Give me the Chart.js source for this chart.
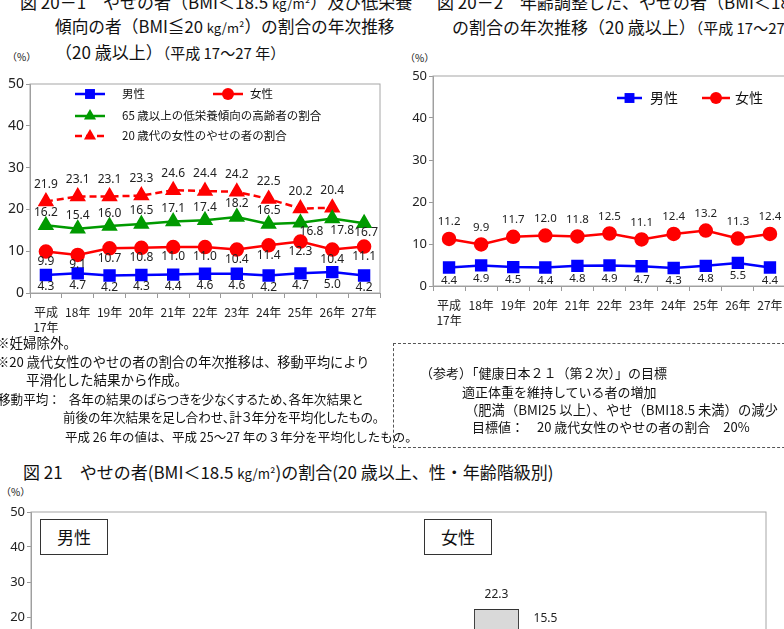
<!DOCTYPE html>
<html>
<head>
<meta charset="utf-8">
<script src="https://cdn.jsdelivr.net/npm/chart.js@4.4.0/dist/chart.umd.min.js"></script>
<style>
html, body { margin: 0; padding: 0; background: #fff; }
body { position: relative; width: 784px; height: 629px; overflow: hidden; font-family: "Noto Sans CJK JP", sans-serif; color: #111; }
.t { position: absolute; white-space: nowrap; line-height: 1; }
.s { font-size: 0.78em; }
.p { font-feature-settings: "palt"; }
.wrap { position: absolute; }
.dash { position: absolute; left: 393px; top: 343px; width: 420px; height: 103px; border: 1px dashed #555; }
.tag { position: absolute; border: 1.5px solid #333; background: #fff; font-size: 17px; text-align: center; line-height: 34px; }
</style>
</head>
<body>

<div class="t" style="left:20px;top:-7px;font-size:17px">図 20－1　やせの者（BMI＜18.5 <span class="s">kg/m²</span>）及び低栄養</div>
<div class="t" style="left:55px;top:18px;font-size:16.7px">傾向の者（BMI≦20 <span class="s">kg/m²</span>）の割合の年次推移</div>
<div class="t" style="left:55px;top:43px;font-size:17px">（20 歳以上）<span style="font-size:15px">（平成 17〜27 年）</span></div>
<div class="t" style="left:7px;top:52px;font-size:10px">（%）</div>

<div class="t" style="left:437px;top:-7px;font-size:17px">図 20－2　年齢調整した、やせの者（BMI＜18.5 <span class="s">kg/m²</span>）</div>
<div class="t" style="left:452px;top:18px;font-size:17px">の割合の年次推移（20 歳以上）<span style="font-size:15px">（平成 17〜27 年）</span></div>
<div class="t" style="left:405px;top:53px;font-size:10px">（%）</div>

<div class="wrap" style="left:0;top:70px;width:400px;height:270px"><canvas id="trend"></canvas></div>
<div class="wrap" style="left:400px;top:60px;width:400px;height:270px"><canvas id="adjusted"></canvas></div>

<div class="t" style="left:-4px;top:336px;font-size:13.5px">※妊婦除外。</div>
<div class="t" style="left:-4px;top:355px;font-size:13.2px">※20 歳代女性のやせの者の割合の年次推移は、移動平均により</div>
<div class="t" style="left:26px;top:373px;font-size:13.5px">平滑化した結果から作成。</div>
<div class="t p" style="left:-2px;top:393px;font-size:12.6px">移動平均 ：&nbsp;&nbsp;&nbsp; 各年の結果のばらつきを少なくするため、各年次結果と</div>
<div class="t p" style="left:63px;top:411px;font-size:12.6px">前後の年次結果を足し合わせ、計３年分を平均化したもの。</div>
<div class="t" style="left:65px;top:431px;font-size:12.5px">平成 26 年の値は、平成 25〜27 年の３年分を平均化したもの。</div>

<div class="dash"></div>
<div class="t" style="left:420px;top:366px;font-size:13px">（参考）「健康日本２１（第２次）」の目標</div>
<div class="t" style="left:462px;top:385px;font-size:13px">適正体重を維持している者の増加</div>
<div class="t" style="left:465px;top:403px;font-size:13.3px">（肥満（BMI25 以上）、やせ（BMI18.5 未満）の減少</div>
<div class="t" style="left:472px;top:420px;font-size:13px">目標値：　20 歳代女性のやせの者の割合　20%</div>

<div class="t" style="left:23px;top:463px;font-size:17px">図 21　やせの者(BMI＜18.5 <span class="s">kg/m²</span>)の割合(20 歳以上、性・年齢階級別)</div>
<div class="t" style="left:1px;top:487px;font-size:10px">（%）</div>

<div class="wrap" style="left:0;top:490px;width:784px;height:240px"><canvas id="byAge"></canvas></div>
<div class="tag" style="left:40px;top:519px;width:66px;height:34px">男性</div>
<div class="tag" style="left:424px;top:519px;width:66px;height:34px">女性</div>

<script>
// 年次推移 (平成17〜27年)
var years = [['平成', '17年'], '18年', '19年', '20年', '21年', '22年', '23年', '24年', '25年', '26年', '27年'];
var menThin = [4.3, 4.7, 4.2, 4.3, 4.4, 4.6, 4.6, 4.2, 4.7, 5.0, 4.2];
var womenThin = [9.9, 9.1, 10.7, 10.8, 11.0, 11.0, 10.4, 11.4, 12.3, 10.4, 11.1];
var elderlyLow = [16.2, 15.4, 16.0, 16.5, 17.1, 17.4, 18.2, 16.5, 16.8, 17.8, 16.7];
var women20s = [21.9, 23.1, 23.1, 23.3, 24.6, 24.4, 24.2, 22.5, 20.2, 20.4, null];

// 年齢調整
var menAdj = [4.4, 4.9, 4.5, 4.4, 4.8, 4.9, 4.7, 4.3, 4.8, 5.5, 4.4];
var womenAdj = [11.2, 9.9, 11.7, 12.0, 11.8, 12.5, 11.1, 12.4, 13.2, 11.3, 12.4];

// 性・年齢階級別
var ageGroups = ['総数', '20-29歳', '30-39歳', '40-49歳', '50-59歳', '60-69歳', '70歳以上'];
var menByAge = [4.2, 7.5, 4.1, 2.6, 2.7, 3.0, 6.6];
var womenByAge = [11.1, 22.3, 15.5, 10.4, 8.6, 7.5, 10.2];

var yTicks = [0, 10, 20, 30, 40, 50];

Chart.defaults.font.family = "'Noto Sans', 'Noto Sans CJK JP', sans-serif";
Chart.defaults.color = '#222';
Chart.defaults.animation = false;

function drawMark(ctx, style, x, y, r, color) {
    ctx.save();
    ctx.fillStyle = color;
    ctx.beginPath();
    if (style === 'rect') {
        var s = r * Math.SQRT1_2;
        ctx.rect(x - s, y - s, 2 * s, 2 * s);
    } else if (style === 'triangle') {
        ctx.moveTo(x, y - r);
        ctx.lineTo(x + r * 0.866, y + r * 0.5);
        ctx.lineTo(x - r * 0.866, y + r * 0.5);
        ctx.closePath();
    } else {
        ctx.arc(x, y, r, 0, Math.PI * 2);
    }
    ctx.fill();
    ctx.restore();
}

// plot area frame
var frame = {
    id: 'frame',
    beforeDatasetsDraw: function (chart) {
        var a = chart.chartArea, ctx = chart.ctx;
        ctx.save();
        ctx.strokeStyle = '#a6a6a6';
        ctx.lineWidth = 1;
        ctx.strokeRect(a.left, a.top, a.right - a.left, a.bottom - a.top);
        ctx.restore();
    }
};

// value labels next to each mark
var valueLabels = {
    id: 'valueLabels',
    afterDatasetsDraw: function (chart) {
        var ctx = chart.ctx;
        chart.data.datasets.forEach(function (ds, i) {
            if (!ds.labelFont) return;
            chart.getDatasetMeta(i).data.forEach(function (el, j) {
                var v = ds.data[j];
                if (v == null) return;
                var off = Array.isArray(ds.labelOffset[0]) ? ds.labelOffset[j] : ds.labelOffset;
                ctx.save();
                ctx.font = ds.labelFont;
                ctx.fillStyle = '#222';
                ctx.textAlign = 'center';
                ctx.textBaseline = 'middle';
                ctx.fillText(v.toFixed(1), el.x + off[0], el.y + off[1]);
                ctx.restore();
            });
        });
    }
};

function makeKey(items, font) {
    return {
        id: 'key',
        afterDraw: function (chart) {
            var ctx = chart.ctx;
            items.forEach(function (it) {
                var ds = chart.data.datasets[it.ds];
                ctx.save();
                ctx.strokeStyle = ds.borderColor;
                ctx.lineWidth = ds.borderWidth;
                ctx.setLineDash(ds.borderDash || []);
                ctx.beginPath();
                ctx.moveTo(it.x1, it.y);
                ctx.lineTo(it.x2, it.y);
                ctx.stroke();
                ctx.restore();
                drawMark(ctx, ds.pointStyle, (it.x1 + it.x2) / 2, it.y, ds.pointRadius, ds.pointBackgroundColor);
                ctx.save();
                ctx.font = font;
                ctx.fillStyle = '#111';
                ctx.textAlign = 'left';
                ctx.textBaseline = 'middle';
                ctx.fillText(ds.label, it.tx, it.y);
                ctx.restore();
            });
        }
    };
}

function yScale(width, fontSize) {
    return {
        min: 0,
        max: 50,
        afterBuildTicks: function (s) { s.ticks = yTicks.map(function (v) { return { value: v }; }); },
        afterFit: function (s) { s.width = width; },
        border: { color: '#999' },
        grid: { drawOnChartArea: false, tickLength: 4, color: '#999' },
        ticks: { padding: 2, font: { size: fontSize }, color: '#222' }
    };
}

function xScale(height) {
    return {
        offset: true,
        afterFit: function (s) { s.height = height; },
        border: { color: '#999' },
        grid: { offset: true, drawOnChartArea: false, tickLength: 5, color: '#999' },
        ticks: { padding: 7, maxRotation: 0, autoSkip: false, font: { family: "'Noto Sans CJK JP'", size: 12, lineHeight: 1.25 }, color: '#222' }
    };
}

function lineSet(label, data, color, style, radius, extra) {
    var d = {
        label: label,
        data: data,
        borderColor: color,
        backgroundColor: color,
        pointBackgroundColor: color,
        pointBorderColor: color,
        pointStyle: style,
        pointRadius: radius,
        borderWidth: 2.5,
        tension: 0
    };
    for (var k in extra) d[k] = extra[k];
    return d;
}

var blue = '#0000ff', red = '#ff0000', green = '#009a00';

var trend = new Chart(document.getElementById('trend').getContext('2d'), {
    type: 'line',
    data: {
        labels: years,
        datasets: [
            lineSet('男性', menThin, blue, 'rect', 7, { labelFont: '12px "Noto Sans"', labelOffset: [0, 12] }),
            lineSet('女性', womenThin, red, 'circle', 6, { labelFont: '12px "Noto Sans"', labelOffset: [0, 10] }),
            lineSet('65 歳以上の低栄養傾向の高齢者の割合', elderlyLow, green, 'triangle', 7, {
                labelFont: '12px "Noto Sans"',
                labelOffset: [[0, -13], [0, -13], [0, -13], [0, -13], [0, -13], [0, -13], [0, -13], [0, -13], [11, 9], [10, 12], [2, 9]]
            }),
            lineSet('20 歳代の女性のやせの者の割合', women20s, red, 'triangle', 7, { borderDash: [7, 4], labelFont: '12px "Noto Sans"', labelOffset: [0, -17] })
        ]
    },
    options: {
        responsive: true,
        maintainAspectRatio: false,
        devicePixelRatio: 1,
        layout: { autoPadding: false, padding: { top: 14, right: 20, left: 0, bottom: 0 } },
        plugins: { legend: { display: false }, tooltip: { enabled: false } },
        scales: { x: xScale(47), y: yScale(30, 14) }
    },
    plugins: [frame, valueLabels, makeKey([
        { ds: 0, x1: 75, x2: 105, y: 24, tx: 122 },
        { ds: 1, x1: 213, x2: 243, y: 24, tx: 250 },
        { ds: 2, x1: 75, x2: 105, y: 46, tx: 122 },
        { ds: 3, x1: 75, x2: 105, y: 66, tx: 122 }
    ], '11.5px "Noto Sans CJK JP"')]
});

var adjusted = new Chart(document.getElementById('adjusted').getContext('2d'), {
    type: 'line',
    data: {
        labels: years,
        datasets: [
            lineSet('男性', menAdj, blue, 'rect', 7, { labelFont: '11.5px "Noto Sans"', labelOffset: [0, 13] }),
            lineSet('女性', womenAdj, red, 'circle', 6, { labelFont: '11.5px "Noto Sans"', labelOffset: [0, -17] })
        ]
    },
    options: {
        responsive: true,
        maintainAspectRatio: false,
        devicePixelRatio: 1,
        layout: { autoPadding: false, padding: { top: 16, right: 14, left: 0, bottom: 0 } },
        plugins: { legend: { display: false }, tooltip: { enabled: false } },
        scales: { x: xScale(44), y: yScale(33, 13) }
    },
    plugins: [frame, valueLabels, makeKey([
        { ds: 0, x1: 217, x2: 242, y: 38, tx: 250 },
        { ds: 1, x1: 302, x2: 330, y: 38, tx: 335 }
    ], '14px "Noto Sans CJK JP"')]
});

var byAge = new Chart(document.getElementById('byAge').getContext('2d'), {
    type: 'bar',
    data: {
        labels: ageGroups.concat([''], ageGroups),
        datasets: [{
            label: 'やせの者の割合',
            data: menByAge.concat([null], womenByAge),
            backgroundColor: '#d9d9d9',
            borderColor: '#333',
            borderWidth: 1,
            barPercentage: 0.92,
            categoryPercentage: 1.0,
            labelFont: '12px "Noto Sans"',
            labelOffset: [0, -14]
        }]
    },
    options: {
        responsive: true,
        maintainAspectRatio: false,
        devicePixelRatio: 1,
        layout: { autoPadding: false, padding: { top: 22, right: 18, left: 0, bottom: 0 } },
        plugins: { legend: { display: false }, tooltip: { enabled: false } },
        scales: { x: xScale(43), y: yScale(31, 13) }
    },
    plugins: [frame, valueLabels]
});
</script>
</body>
</html>
